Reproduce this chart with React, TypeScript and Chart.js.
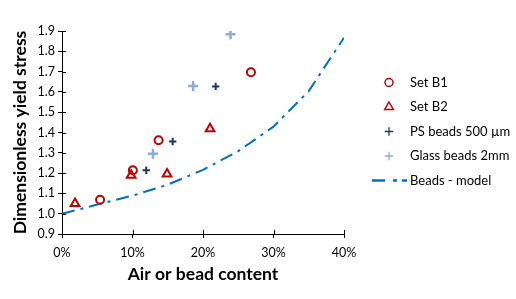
import React, { useEffect, useRef } from 'react';
import { Chart, registerables } from 'chart.js';

Chart.register(...registerables);

// ---- data (x as fraction of content, y dimensionless yield stress) ----
const setB1X = [0.054, 0.1005, 0.137, 0.268];
const setB1Y = [1.069, 1.214, 1.362, 1.697];

const setB2X = [0.0185, 0.098, 0.149, 0.21];
const setB2Y = [1.05, 1.19, 1.195, 1.418];

const psX = [0.1195, 0.157, 0.218];
const psY = [1.214, 1.356, 1.627];

const glassX = [0.129, 0.186, 0.239];
const glassY = [1.295, 1.629, 1.884];

const modelX = [0, 0.05, 0.1, 0.15, 0.2, 0.25, 0.3, 0.35, 0.4];
const modelY = [1.0, 1.045, 1.089, 1.143, 1.216, 1.308, 1.429, 1.604, 1.867];

const seriesLabels = ['Set B1', 'Set B2', 'PS beads 500 µm', 'Glass beads 2mm', 'Beads - model'];

const xTickValues = [0, 0.1, 0.2, 0.3, 0.4];
const xTickLabels = ['0%', '10%', '20%', '30%', '40%'];
const yTickValues = [0.9, 1.0, 1.1, 1.2, 1.3, 1.4, 1.5, 1.6, 1.7, 1.8, 1.9];
const yTickLabels = ['0.9', '1.0', '1.1', '1.2', '1.3', '1.4', '1.5', '1.6', '1.7', '1.8', '1.9'];

const xTitle = 'Air or bead content';
const yTitle = 'Dimensionless yield stress';

const FONT = 'Lato';
const RED = '#C00000';
const NAVY = '#1F3864';
const LIGHT = '#8FAADC';
const BLUE = '#0070C0';

const zip = (xs: number[], ys: number[]) => xs.map((x, i) => ({ x, y: ys[i] }));

// inner half of crossing tick marks + custom legend
const extrasPlugin = {
  id: 'extras',
  afterDraw(chart: any) {
    const { ctx, chartArea, scales } = chart;
    ctx.save();
    ctx.strokeStyle = '#000';
    ctx.lineWidth = 1;
    ctx.beginPath();
    xTickValues.forEach((v) => {
      const px = Math.round(scales.x.getPixelForValue(v)) + 0.5;
      ctx.moveTo(px, chartArea.bottom);
      ctx.lineTo(px, chartArea.bottom - 4);
    });
    yTickValues.forEach((v) => {
      const py = Math.round(scales.y.getPixelForValue(v)) + 0.5;
      ctx.moveTo(chartArea.left, py);
      ctx.lineTo(chartArea.left + 4, py);
    });
    ctx.stroke();

    // legend
    const mx = chartArea.right + 45;
    const tx = chartArea.right + 66;
    const y0 = chartArea.top + 51.5;
    const dy = 24.5;
    chart.data.datasets.forEach((ds: any, i: number) => {
      const cy = y0 + i * dy;
      ctx.save();
      ctx.strokeStyle = ds.borderColor;
      const style = ds.pointStyle;
      ctx.beginPath();
      if (ds.showLine) {
        ctx.lineWidth = 2.5;
        ctx.setLineDash([13, 8, 4, 5]);
        ctx.moveTo(mx - 17, cy);
        ctx.lineTo(mx + 18, cy);
      } else if (style === 'circle') {
        ctx.lineWidth = 1.5;
        ctx.arc(mx, cy, 4, 0, Math.PI * 2);
      } else if (style === 'triangle') {
        ctx.lineWidth = 1.5;
        const r = 5;
        ctx.moveTo(mx, cy - r);
        ctx.lineTo(mx + r * 0.866, cy + r / 2);
        ctx.lineTo(mx - r * 0.866, cy + r / 2);
        ctx.closePath();
      } else if (style === 'cross') {
        ctx.lineWidth = 1.3;
        const r = 4.3;
        ctx.moveTo(mx - r, cy);
        ctx.lineTo(mx + r, cy);
        ctx.moveTo(mx, cy - r);
        ctx.lineTo(mx, cy + r);
      }
      ctx.stroke();
      ctx.restore();
      ctx.fillStyle = '#000';
      ctx.font = `13px ${FONT}`;
      ctx.textBaseline = 'middle';
      ctx.textAlign = 'left';
      ctx.fillText(ds.label, tx, cy);
    });
    ctx.restore();
  },
};

export default function App() {
  const ref = useRef<HTMLCanvasElement | null>(null);

  useEffect(() => {
    if (!ref.current) return;
    const chart = new Chart(ref.current, {
      type: 'scatter',
      data: {
        datasets: [
          {
            label: seriesLabels[0],
            data: zip(setB1X, setB1Y),
            pointStyle: 'circle',
            pointRadius: 4,
            borderWidth: 2,
            borderColor: RED,
            backgroundColor: 'rgba(0,0,0,0)',
          },
          {
            label: seriesLabels[1],
            data: zip(setB2X, setB2Y),
            pointStyle: 'triangle',
            pointRadius: 5,
            borderWidth: 2,
            borderColor: RED,
            backgroundColor: 'rgba(0,0,0,0)',
          },
          {
            label: seriesLabels[2],
            data: zip(psX, psY),
            pointStyle: 'cross',
            pointRadius: 3.7,
            borderWidth: 2,
            borderColor: NAVY,
            backgroundColor: NAVY,
          },
          {
            label: seriesLabels[3],
            data: zip(glassX, glassY),
            pointStyle: 'cross',
            pointRadius: 5,
            borderWidth: 2.5,
            borderColor: LIGHT,
            backgroundColor: LIGHT,
          },
          {
            label: seriesLabels[4],
            data: zip(modelX, modelY),
            showLine: true,
            pointRadius: 0,
            borderColor: BLUE,
            backgroundColor: BLUE,
            borderWidth: 2,
            borderDash: [13, 6, 3, 6],
            borderCapStyle: 'butt',
            tension: 0,
          } as any,
        ],
      },
      options: {
        responsive: false,
        animation: false,
        layout: { padding: { left: 0, top: 31, right: 172, bottom: 0 } },
        plugins: {
          legend: { display: false },
          tooltip: { enabled: false },
          title: { display: false },
        },
        scales: {
          x: {
            type: 'linear',
            min: 0,
            max: 0.4,
            afterFit: (s: any) => {
              s.height = 65;
            },
            afterBuildTicks: (s: any) => {
              s.ticks = xTickValues.map((v) => ({ value: v }));
            },
            ticks: {
              color: '#000',
              font: { family: FONT, size: 12.5 },
              padding: 7,
              callback: (v: any) => xTickLabels[xTickValues.findIndex((t) => Math.abs(t - v) < 1e-9)],
            },
            grid: { drawOnChartArea: false, drawTicks: true, tickLength: 4, color: '#000' },
            border: { color: '#000', width: 1 },
            title: {
              display: true,
              text: xTitle,
              color: '#000',
              font: { family: FONT, size: 17.5, weight: 'bold' },
              padding: { top: 0, bottom: 14 },
            },
          },
          y: {
            type: 'linear',
            min: 0.9,
            max: 1.9,
            afterFit: (s: any) => {
              s.width = 62;
            },
            afterBuildTicks: (s: any) => {
              s.ticks = yTickValues.map((v) => ({ value: v }));
            },
            ticks: {
              color: '#000',
              font: { family: FONT, size: 12.5 },
              padding: 3,
              callback: (v: any) => yTickLabels[yTickValues.findIndex((t) => Math.abs(t - v) < 1e-9)],
            },
            grid: { drawOnChartArea: false, drawTicks: true, tickLength: 4, color: '#000' },
            border: { color: '#000', width: 1 },
            title: {
              display: true,
              text: yTitle,
              color: '#000',
              font: { family: FONT, size: 17.5, weight: 'bold' },
              padding: { top: 10, bottom: 0 },
            },
          },
        },
      },
      plugins: [extrasPlugin],
    });
    return () => chart.destroy();
  }, []);

  return (
    <canvas
      ref={ref}
      width={516}
      height={299}
      style={{ position: 'absolute', left: 0, top: 0, display: 'block' }}
    />
  );
}
